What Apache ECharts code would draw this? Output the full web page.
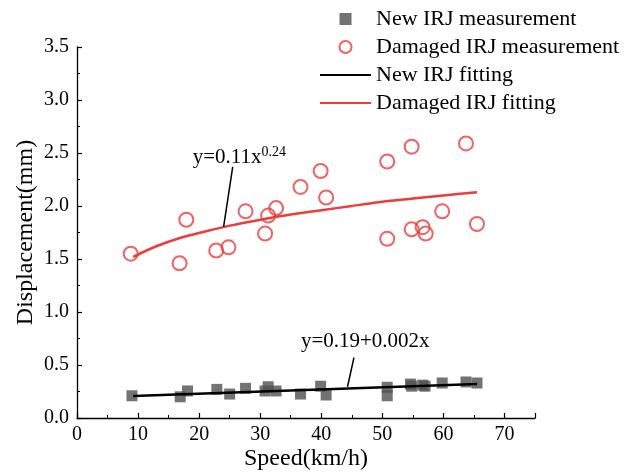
<!DOCTYPE html>
<html>
<head>
<meta charset="utf-8">
<script src="https://cdn.jsdelivr.net/npm/echarts@6/dist/echarts.min.js"></script>
<style>
  html, body { margin: 0; padding: 0; background: #fff; }
  #chart { width: 644px; height: 475px; }
</style>
</head>
<body>
<div id="chart"></div>
<script>
// Speed (km/h) and measured displacement (mm) of the new insulated rail joint
const newSpeed = [9.0, 16.9, 18.1, 22.9, 25.0, 27.6, 30.8, 31.3, 32.6, 36.6, 39.9, 40.8, 50.8, 50.8, 54.6, 54.8, 56.6, 57.0, 59.8, 63.7, 65.5];
const newDisp  = [0.21, 0.20, 0.255, 0.27, 0.226, 0.28, 0.255, 0.295, 0.255, 0.226, 0.30, 0.217, 0.29, 0.21, 0.32, 0.30, 0.31, 0.30, 0.33, 0.34, 0.33];

// Speed (km/h) and measured displacement (mm) of the damaged insulated rail joint
const damagedSpeed = [8.8, 16.8, 17.9, 22.8, 24.8, 27.6, 30.8, 31.3, 32.6, 36.6, 39.9, 40.8, 50.8, 50.8, 54.8, 54.8, 56.6, 57.1, 59.8, 63.7, 65.5];
const damagedDisp  = [1.55, 1.46, 1.87, 1.58, 1.61, 1.95, 1.74, 1.91, 1.98, 2.18, 2.33, 2.08, 2.42, 1.69, 2.56, 1.78, 1.80, 1.74, 1.95, 2.59, 1.83];

// Fitted curves
const newFitSpeed = [9.2, 65.5];
const newFitDisp  = [0.208, 0.321];
const damagedFitSpeed = [9.2, 13, 17, 21, 25, 30, 35, 40, 45, 50, 55, 60, 65.5];
const damagedFitDisp  = [1.52, 1.62, 1.70, 1.76, 1.815, 1.87, 1.92, 1.96, 2.00, 2.04, 2.07, 2.10, 2.13];

// Axis ticks
const xTicks = [0, 10, 20, 30, 40, 50, 60, 70];
const yTicks = ['0.0', '0.5', '1.0', '1.5', '2.0', '2.5', '3.0', '3.5'];

// Equation callouts: leader line end points and label anchors
const damagedEqLeader = [[24.0, 1.80], [25.5, 2.37]];
const damagedEqAnchor = [26.6, 2.343];
const newEqLeader = [[44.3, 0.295], [45.35, 0.57]];
const newEqAnchor = [47.2, 0.624];

const zip = (a, b) => a.map((v, i) => [v, b[i]]);
const FONT = '"Liberation Serif", "Times New Roman", serif';
const RED = '#ee3b3b';
// fitted-curve legend entries show the line only, without a marker
const NO_MARKER = { opacity: 0 };

const chart = echarts.init(document.getElementById('chart'), null, { renderer: 'canvas' });

const axisCommon = {
  axisLine: { show: true, lineStyle: { color: '#000', width: 1.3 } },
  axisTick: { show: true, inside: true, length: 5, lineStyle: { color: '#000', width: 1.2 } },
  minorTick: { show: true, splitNumber: 2, length: 3, lineStyle: { color: '#000', width: 1 } },
  splitLine: { show: false },
  axisLabel: { color: '#000', fontFamily: FONT, fontSize: 20 },
  nameTextStyle: { color: '#000', fontFamily: FONT, fontSize: 24 },
  nameMoveOverlap: false
};

chart.setOption({
  animation: false,
  backgroundColor: '#fff',
  textStyle: { fontFamily: FONT },
  grid: { left: 77, right: 109, top: 47, bottom: 57, containLabel: false, outerBoundsMode: 'none' },
  legend: {
    orient: 'vertical',
    left: 319,
    top: 8,
    padding: 0,
    itemWidth: 51,
    itemHeight: 12,
    itemGap: 6,
    symbolKeepAspect: true,
    selectedMode: false,
    textStyle: { color: '#000', fontFamily: FONT, fontSize: 22, lineHeight: 22 },
    data: [
      { name: 'New IRJ measurement', icon: 'path://M0,0L10,0L10,10L0,10Z', symbolKeepAspect: true },
      { name: 'Damaged IRJ measurement', icon: 'circle' },
      { name: 'New IRJ fitting', itemStyle: NO_MARKER },
      { name: 'Damaged IRJ fitting', itemStyle: NO_MARKER }
    ]
  },
  xAxis: Object.assign({}, axisCommon, {
    type: 'value',
    min: 0, max: 75, interval: 10,
    name: 'Speed(km/h)',
    nameLocation: 'middle',
    nameGap: 29,
    axisLabel: Object.assign({}, axisCommon.axisLabel, {
      margin: 7,
      showMaxLabel: false,
      formatter: v => (xTicks.indexOf(v) >= 0 ? String(v) : '')
    })
  }),
  yAxis: Object.assign({}, axisCommon, {
    type: 'value',
    min: 0, max: 3.5, interval: 0.5,
    name: 'Displacement(mm)',
    nameLocation: 'middle',
    nameGap: 39,
    axisLabel: Object.assign({}, axisCommon.axisLabel, {
      margin: 8,
      formatter: v => yTicks[Math.round(v / 0.5)]
    })
  }),
  series: [
    {
      name: 'New IRJ measurement',
      type: 'scatter',
      symbol: 'rect',
      symbolSize: 11,
      symbolKeepAspect: true,
      itemStyle: { color: '#505050' },
      emphasis: { disabled: true },
      data: zip(newSpeed, newDisp),
      z: 3
    },
    {
      name: 'Damaged IRJ measurement',
      type: 'scatter',
      symbol: 'circle',
      symbolSize: 14,
      itemStyle: { color: 'transparent', borderColor: RED, borderWidth: 2 },
      emphasis: { disabled: true },
      data: zip(damagedSpeed, damagedDisp),
      z: 3
    },
    {
      name: 'New IRJ fitting',
      type: 'line',
      showSymbol: false,
      lineStyle: { color: '#000', width: 2.5 },
      itemStyle: { color: '#000' },
      emphasis: { disabled: true },
      data: zip(newFitSpeed, newFitDisp),
      z: 4,
      markLine: {
        silent: true,
        symbol: 'none',
        animation: false,
        lineStyle: { color: '#000', width: 1.5, type: 'solid' },
        label: { show: false },
        data: [[{ coord: newEqLeader[0] }, { coord: newEqLeader[1] }]]
      },
      markPoint: {
        silent: true,
        symbol: 'circle',
        symbolSize: 0,
        label: {
          show: true,
          position: 'top',
          distance: 0,
          color: '#000',
          fontFamily: FONT,
          fontSize: 21,
          formatter: 'y=0.19+0.002x'
        },
        data: [{ coord: newEqAnchor }]
      }
    },
    {
      name: 'Damaged IRJ fitting',
      type: 'line',
      smooth: 0.3,
      showSymbol: false,
      lineStyle: { color: RED, width: 2.5 },
      itemStyle: { color: RED },
      emphasis: { disabled: true },
      data: zip(damagedFitSpeed, damagedFitDisp),
      z: 4,
      markLine: {
        silent: true,
        symbol: 'none',
        animation: false,
        lineStyle: { color: '#000', width: 1.5, type: 'solid' },
        label: { show: false },
        data: [[{ coord: damagedEqLeader[0] }, { coord: damagedEqLeader[1] }]]
      },
      markPoint: {
        silent: true,
        symbol: 'circle',
        symbolSize: 0,
        label: {
          show: true,
          position: 'top',
          distance: 0,
          color: '#000',
          fontFamily: FONT,
          fontSize: 21,
          formatter: 'y=0.11x{sup|0.24}',
          rich: {
            sup: { fontFamily: FONT, fontSize: 14, color: '#000', verticalAlign: 'top', padding: [0, 0, 10, 0] }
          }
        },
        data: [{ coord: damagedEqAnchor }]
      }
    }
  ]
});
</script>
</body>
</html>
